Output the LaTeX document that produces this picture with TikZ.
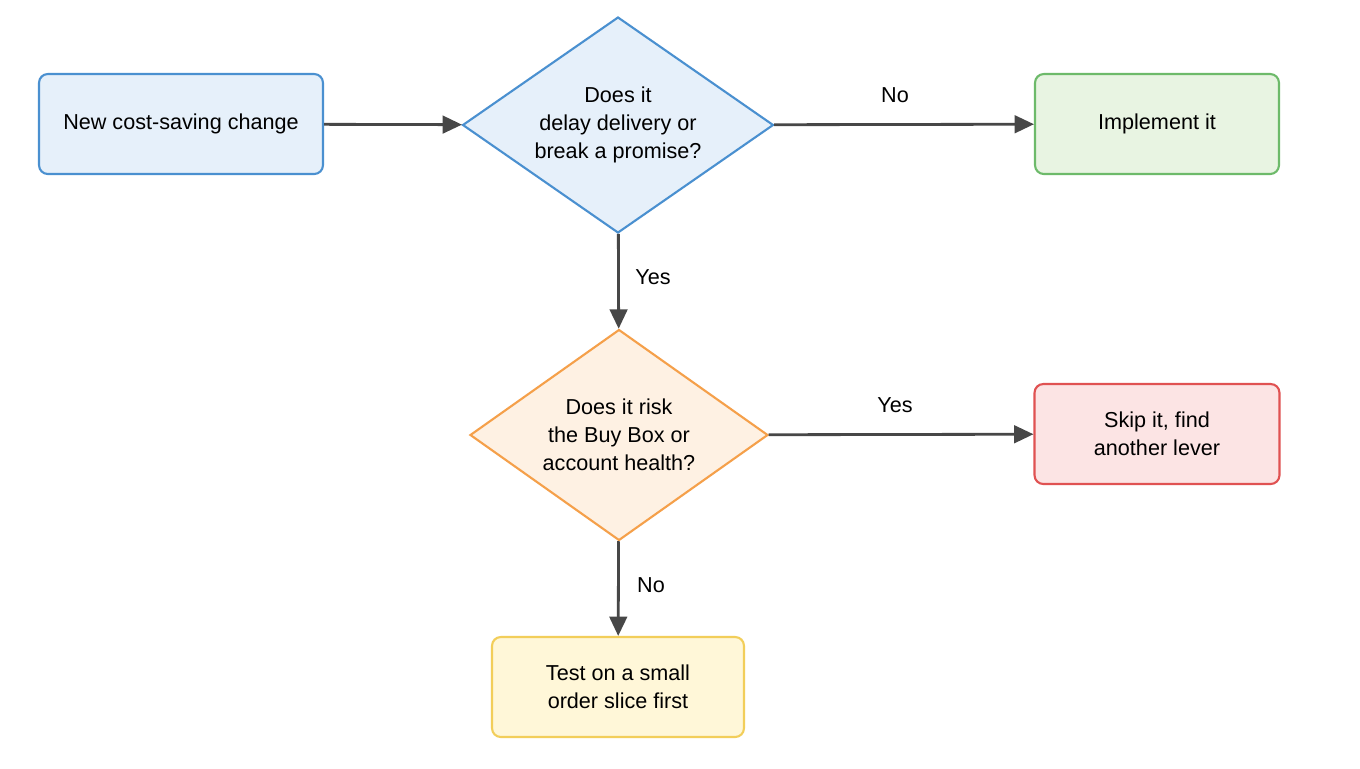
\documentclass[tikz,border=0pt]{standalone}
\usepackage{fontspec}
\setmainfont{Liberation Sans}
\usetikzlibrary{shapes.geometric,arrows.meta}
\begin{document}
\begin{tikzpicture}[x=0.02cm,y=-0.02cm,
 box/.style={draw,rounded corners=5pt,line width=1.2pt,minimum width=#1,align=center,font=\fontsize{12.3}{16}\selectfont,minimum height=2cm},
 dia/.style={diamond,draw,line width=1.2pt,inner sep=-1cm,align=center,font=\fontsize{12.3}{16}\selectfont},
 arr/.style={draw=black!72,line width=1.6pt,-{Triangle[length=11pt,width=10pt]}},
 lab/.style={font=\fontsize{12.3}{14}\selectfont}]
\useasboundingbox[fill=white] (0,0) rectangle (1360,768);
\definecolor{bS}{HTML}{4A90D0}\definecolor{bF}{HTML}{E6F0FA}
\definecolor{gS}{HTML}{6DBA6A}\definecolor{gF}{HTML}{E8F4E2}
\definecolor{oS}{HTML}{F5A04A}\definecolor{oF}{HTML}{FEF1E3}
\definecolor{rS}{HTML}{E05252}\definecolor{rF}{HTML}{FCE4E4}
\definecolor{yS}{HTML}{F2CE5A}\definecolor{yF}{HTML}{FFF7D8}
\node[box=5.68cm,draw=bS,fill=bF] (a) at (181,124) {New cost-saving change};
\node[dia,draw=bS,fill=bF,minimum width=6.22cm,minimum height=4.32cm] (d1) at (618,125) {Does it\\delay delivery or\\break a promise?};
\node[box=4.88cm,draw=gS,fill=gF] (imp) at (1157,124) {Implement it};
\node[dia,draw=oS,fill=oF,minimum width=5.96cm,minimum height=4.22cm] (d2) at (619,435) {Does it risk\\the Buy Box or\\account health?};
\node[box=4.9cm,draw=rS,fill=rF] (skip) at (1157,434) {Skip it, find\\another lever};
\node[box=5.04cm,draw=yS,fill=yF] (test) at (618,687) {Test on a small\\order slice first};
\draw[arr] (a) -- (d1);
\draw[arr] (d1) -- (imp);
\draw[arr] (d1) -- (d2);
\draw[arr] (d2) -- (skip);
\draw[arr] (d2) -- (test);
\node[lab] (l1) at (895,95) {No};
\node[lab] (l2) at (653,277) {Yes};
\node[lab] (l3) at (895,405) {Yes};
\node[lab] (l4) at (651,585) {No};
\end{tikzpicture}
\end{document}
